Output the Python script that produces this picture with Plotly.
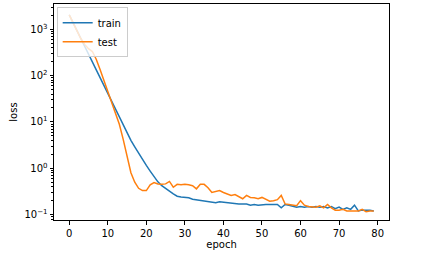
#!/usr/bin/env python3

import plotly.graph_objects as go

# loss per epoch
epochs = list(range(80))

train_loss = [2040, 1380, 930, 630, 425, 290, 195, 130, 89, 60,
              40, 27, 18.5, 12.5, 8.4, 5.7, 4.0, 2.9, 2.1, 1.55,
              1.15, 0.87, 0.66, 0.51, 0.42, 0.36, 0.32, 0.28, 0.25, 0.24,
              0.235, 0.23, 0.215, 0.21, 0.205, 0.20, 0.19, 0.19, 0.18, 0.19,
              0.185, 0.18, 0.18, 0.175, 0.17, 0.17, 0.17, 0.16, 0.165, 0.16,
              0.165, 0.165, 0.165, 0.165, 0.165, 0.14, 0.165, 0.16, 0.15, 0.145,
              0.15, 0.145, 0.15, 0.145, 0.15, 0.145, 0.15, 0.14, 0.15, 0.135,
              0.145, 0.13, 0.14, 0.13, 0.16, 0.12, 0.125, 0.125, 0.125, 0.12]

test_loss = [2040, 1380, 930, 630, 470, 380, 330, 225, 135, 80,
             47, 28, 16.6, 8.9, 4.2, 1.8, 0.8, 0.5, 0.37, 0.33,
             0.33, 0.44, 0.49, 0.46, 0.45, 0.46, 0.52, 0.39, 0.45, 0.44,
             0.45, 0.44, 0.42, 0.36, 0.45, 0.45, 0.38, 0.30, 0.31, 0.33,
             0.30, 0.28, 0.26, 0.27, 0.24, 0.22, 0.26, 0.235, 0.23, 0.22,
             0.235, 0.21, 0.195, 0.20, 0.21, 0.26, 0.17, 0.165, 0.16, 0.155,
             0.20, 0.16, 0.15, 0.15, 0.145, 0.155, 0.14, 0.165, 0.14, 0.125,
             0.125, 0.13, 0.12, 0.12, 0.12, 0.12, 0.13, 0.115, 0.12, 0.12]

x_ticks = [0, 10, 20, 30, 40, 50, 60, 70, 80]
y_ticks = [0.1, 1, 10, 100, 1000]
y_tick_text = ['10<sup>\u22121</sup>', '10<sup>0</sup>', '10<sup>1</sup>',
               '10<sup>2</sup>', '10<sup>3</sup>']

fig = go.Figure()
fig.add_trace(go.Scatter(x=epochs, y=train_loss, name='train', mode='lines',
                         line=dict(color='#1f77b4', width=1.5)))
fig.add_trace(go.Scatter(x=epochs, y=test_loss, name='test', mode='lines',
                         line=dict(color='#ff7f0e', width=1.5)))

axis_style = dict(showline=True, linecolor='black', linewidth=1, mirror=True,
                  showgrid=False, zeroline=False, ticks='outside', ticklen=3.5,
                  tickwidth=0.8, tickcolor='black', automargin=False,
                  tickfont=dict(size=10, color='black'))

fig.update_layout(
    width=429, height=257,
    margin=dict(l=54, r=40, t=4, b=37),
    paper_bgcolor='white', plot_bgcolor='white',
    font=dict(family='DejaVu Sans', size=10, color='black'),
    showlegend=True,
    legend=dict(x=0.008, y=0.985, xanchor='left', yanchor='top',
                bgcolor='rgba(255,255,255,0.8)', bordercolor='#cccccc',
                borderwidth=1, font=dict(size=10), tracegroupgap=0,
                itemwidth=30),
)
fig.update_xaxes(axis_style, range=[-3.95, 82.95], tickvals=x_ticks,
                 title=dict(text='epoch', font=dict(size=10), standoff=2))
fig.update_yaxes(axis_style, type='log', range=[-1.116, 3.544],
                 tickvals=y_ticks, ticktext=y_tick_text,
                 minor=dict(ticks='outside', ticklen=2, tickwidth=0.6,
                            tickcolor='black', dtick='D1', showgrid=False),
                 title=dict(text='loss', font=dict(size=10), standoff=4))

# drop the page's default body margin so the figure sits at the top-left corner
fig.write_html('out.html', config={'displayModeBar': False},
               post_script="document.body.style.margin='0';")
